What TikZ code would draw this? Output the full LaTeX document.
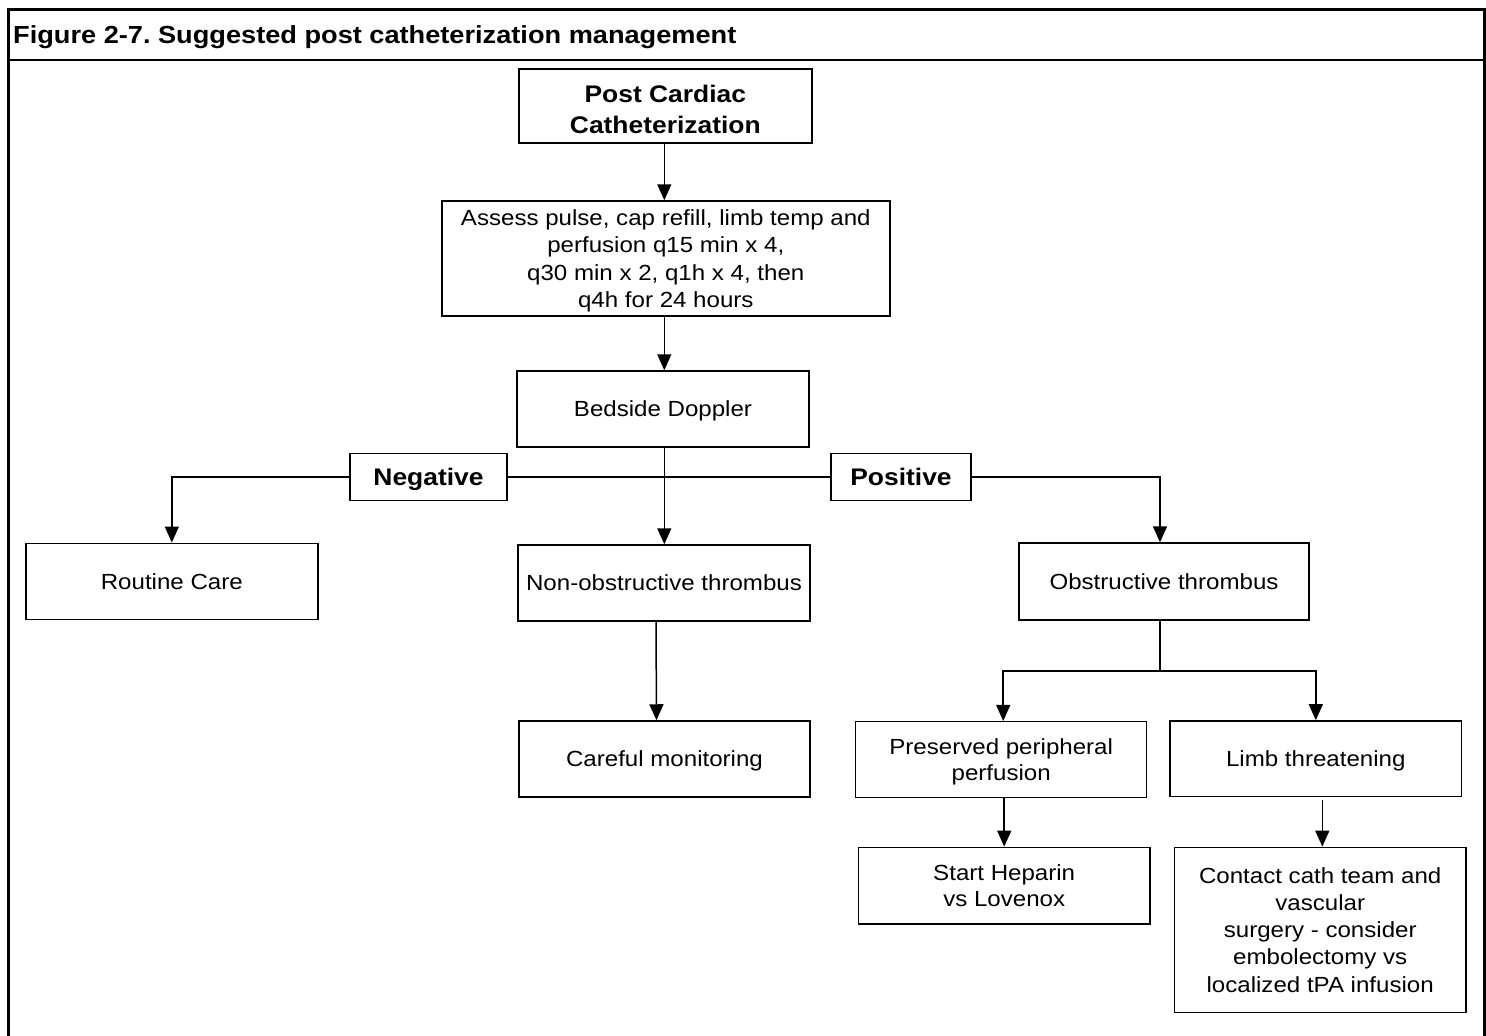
\documentclass[tikz,border=0pt]{standalone}
\usepackage{fontspec}
\setmainfont{Liberation Sans}[FakeStretch=1.1]
\usetikzlibrary{arrows.meta}
% struts that centre the cap height of multi-line texts in their boxes
\newcommand{\firststrut}[1][21.7pt]{\rule{0pt}{#1}}
\newcommand{\laststrut}{\rule[-6pt]{0pt}{6pt}}
\begin{document}
\frenchspacing
\begin{tikzpicture}[x=1pt,y=-1pt,
  every node/.style={font=\fontsize{21.9}{27.3}\selectfont, align=center, inner sep=0pt},
  box/.style={draw, line width=1.5pt, fill=white},
  oneline/.style={text height=15.7pt, text depth=0pt},
  boldbox/.style={box, font=\fontsize{24}{30.6}\selectfont\bfseries},
  boldline/.style={text height=17.2pt, text depth=0pt},
  tight/.style={font=\fontsize{21.9}{25.5}\selectfont},
  link/.style={line width=1.5pt},
  arr/.style={link, -{Triangle[length=16pt,width=14pt]}}]
\useasboundingbox (0,0) rectangle (1486,1036);
\fill[white] (0,0) rectangle (1486,1036);

% outer frame and title bar
\draw[line width=3pt] (8,1040) -- (8,9) -- (1484,9) -- (1484,1040);
\draw[line width=2pt] (8,60) -- (1484,60);
\node[anchor=base west, font=\fontsize{24.7}{30}\selectfont\bfseries] (title) at (13,43.5)
  {Figure 2-7. Suggested post catheterization management};

% boxes
\node[boldbox, minimum width=293pt, minimum height=74pt] (post) at (665.3,106)
  {\firststrut[30pt]Post Cardiac\\Catheterization\laststrut};
\node[box, minimum width=448pt, minimum height=115pt] (assess) at (665.8,258.5)
  {\firststrut Assess pulse, cap refill, limb temp and\\perfusion q15 min x 4,\\q30 min x 2, q1h x 4, then\\q4h for 24 hours\laststrut};
\node[box, oneline, minimum width=292pt, minimum height=76pt] (doppler) at (663,409) {Bedside Doppler};
\node[box, oneline, minimum width=292pt, minimum height=76pt] (routine) at (171.8,581.3) {Routine Care};
\node[box, oneline, minimum width=292pt, minimum height=76pt] (nonobs) at (664,583) {Non-obstructive thrombus};
\node[box, oneline, minimum width=290pt, minimum height=77pt] (obs) at (1164,581.5) {Obstructive thrombus};
\node[box, oneline, minimum width=291pt, minimum height=76pt] (careful) at (664.5,759) {Careful monitoring};
\node[box, tight, minimum width=291pt, minimum height=75.6pt] (preserved) at (1001.2,759.5)
  {\firststrut Preserved peripheral\\perfusion\laststrut};
\node[box, oneline, minimum width=291.7pt, minimum height=75.7pt] (limb) at (1315.8,758.8) {Limb threatening};
\node[box, tight, minimum width=291.7pt, minimum height=76.7pt] (heparin) at (1004.2,885.7)
  {\firststrut Start Heparin\\vs Lovenox\laststrut};
\node[box, minimum width=291.7pt, minimum height=165pt] (contact) at (1320.2,929.8)
  {\firststrut Contact cath team and\\vascular\\surgery - consider\\embolectomy vs\\localized tPA infusion\laststrut};

% main vertical flow
\coordinate (spine) at (664.3,0);
\draw[arr] (post.south -| spine) -- (assess.north -| spine);
\draw[arr] (assess.south -| spine) -- (doppler.north -| spine);
\draw[arr] (doppler.south -| spine) -- (nonobs.north -| spine);

% result labels on the branch line
\node[boldbox, boldline, minimum width=157pt, minimum height=47pt] (neg) at (428.5,477) {Negative};
\node[boldbox, boldline, minimum width=140pt, minimum height=47pt] (pos) at (901,477) {Positive};
\draw[link] (neg.east) -- (pos.west);
\draw[arr] (neg.west) -| (routine.north);
\draw[arr] (pos.east) -| ([xshift=-4pt]obs.north);

\draw[arr] ([xshift=-8pt]nonobs.south) -- ([xshift=-8pt]careful.north);

\coordinate (split) at (1160,671);
\draw[link] ([xshift=-4pt]obs.south) -- (split);
\draw[arr] (split) -| ([xshift=2pt]preserved.north);
\draw[arr] (split) -| (limb.north);

\draw[arr] (preserved.south -| heparin.north) -- (heparin.north);
\draw[arr] ([yshift=-3pt]limb.south -| 1322.3,0) -- (contact.north -| 1322.3,0);
\end{tikzpicture}
\end{document}
